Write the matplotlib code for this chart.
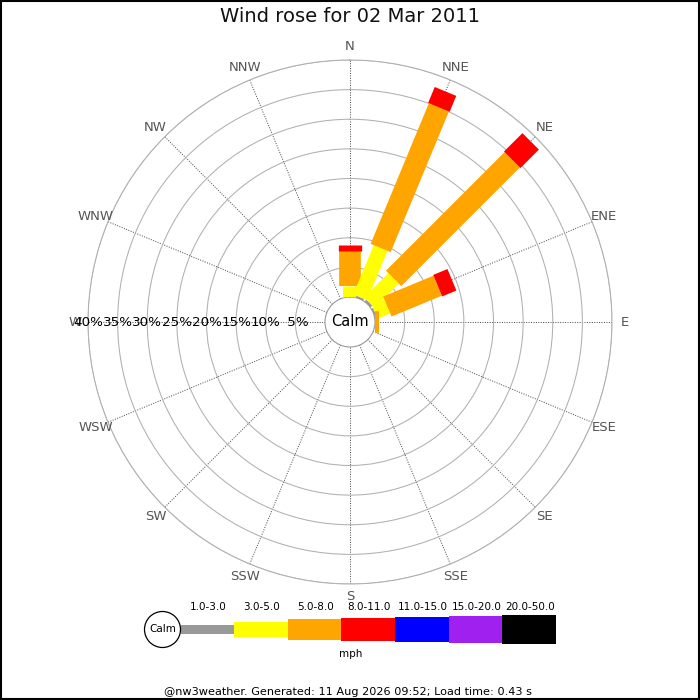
import numpy as np
import matplotlib
matplotlib.use("Agg")
import matplotlib.pyplot as plt
from matplotlib.patches import Rectangle, Circle

# ---------------- data ----------------
directions = ["N", "NNE", "NE", "ENE", "E", "ESE", "SE", "SSE",
              "S", "SSW", "SW", "WSW", "W", "WNW", "NW", "NNW"]
speed_ranges = ["1.0-3.0", "3.0-5.0", "5.0-8.0", "8.0-11.0",
                "11.0-15.0", "15.0-20.0", "20.0-50.0"]
range_colors = ["#999999", "#ffff00", "#ffa500", "#ff0000",
                "#0000ff", "#a020f0", "#000000"]
# percentage per direction for each speed range (1-3, 3-5, 5-8, 8-11)
pct_1_3 = [0.0, 0.3, 0.4, 0.3, 0.0, 0, 0, 0, 0, 0, 0, 0, 0, 0, 0, 0]
pct_3_5 = [1.9, 9.0, 5.8, 2.3, 0.0, 0, 0, 0, 0, 0, 0, 0, 0, 0, 0, 0]
pct_5_8 = [5.8, 25.7, 28.3, 9.2, 0.6, 0, 0, 0, 0, 0, 0, 0, 0, 0, 0, 0]
pct_8_11 = [1.1, 2.9, 4.4, 2.6, 0.0, 0, 0, 0, 0, 0, 0, 0, 0, 0, 0, 0]
ring_values = [5, 10, 15, 20, 25, 30, 35, 40]
ring_labels = [" 5%", "10%", "15%", "20%", "25%", "30%", "35%", "40%"]
title = "Wind rose for 02 Mar 2011"
footer = "@nw3weather. Generated: 11 Aug 2026 09:52; Load time: 0.43 s"

# ---------------- styling ----------------
W = H = 700
DPI = 100
cx, cy = 350, 322            # centre (px)
R_OUT = 262                  # outer ring radius (px)
R_CALM = 25                  # calm circle radius (px)
RMAX = 40.0
px_per_unit = (R_OUT - R_CALM) / RMAX
bar_widths_px = [8.3, 15, 21.7, 23.3, 25.6, 27.6, 29]
px2pt = 72.0 / DPI

fig = plt.figure(figsize=(W / DPI, H / DPI), dpi=DPI)
fig.patch.set_facecolor("white")

ax = fig.add_axes([(cx - R_OUT) / W, (H - cy - R_OUT) / H,
                   2 * R_OUT / W, 2 * R_OUT / H], projection="polar")
ax.set_theta_zero_location("N")
ax.set_theta_direction(-1)
ax.set_ylim(0, RMAX)
ax.set_rorigin(-R_CALM / px_per_unit)

theta = np.deg2rad(np.arange(16) * 22.5)
ax.set_thetagrids(np.arange(16) * 22.5, labels=[""] * 16)
ax.set_rgrids(ring_values, labels=[""] * len(ring_values))
ax.xaxis.grid(True, color="#444444", linestyle=(0, (1, 1.5)), linewidth=0.7)
ax.yaxis.grid(True, color="#b0b0b0", linestyle="-", linewidth=0.75)
ax.spines["polar"].set_color("#b0b0b0")
ax.spines["polar"].set_linewidth(0.75)
ax.spines["inner"].set_color("#999999")
ax.spines["inner"].set_linewidth(0.8)
ax.tick_params(axis="both", length=0)
ax.set_facecolor("white")

series = [pct_1_3, pct_3_5, pct_5_8, pct_8_11]
for i, th in enumerate(theta):
    start = 0.0
    for k, s in enumerate(series):
        v = s[i]
        if v > 0:
            ax.plot([th, th], [start, start + v], color=range_colors[k],
                    linewidth=bar_widths_px[k] * px2pt,
                    solid_capstyle="butt", zorder=3)
        start += v

# compass labels
r_lab = (275 - R_CALM) / px_per_unit
for th, name in zip(theta, directions):
    ax.text(th, r_lab, name, ha="center", va="center", fontsize=9.5,
            color="#555555", clip_on=False)

# ring labels along West axis
for v, lab in zip(ring_values, ring_labels):
    ax.text(np.deg2rad(270), v, lab, ha="center", va="center",
            fontsize=9.7, color="black", zorder=5)

# calm text
ax.text(0.5, 0.5, "Calm", transform=ax.transAxes, ha="center",
        va="center", fontsize=10.5, color="black", zorder=6)

# ---------------- overlay (title, legend, footer) ----------------
ov = fig.add_axes([0, 0, 1, 1], facecolor="none")
ov.set_xlim(0, W)
ov.set_ylim(H, 0)
ov.axis("off")

ov.text(cx, 17, title, ha="center", va="center", fontsize=14,
        color="#111111")

# legend
leg_cy = 629.5
calm_cx, calm_r = 162.5, 18
ov.add_patch(Circle((calm_cx, leg_cy), calm_r, facecolor="white",
                    edgecolor="black", linewidth=0.9, zorder=3))
ov.text(calm_cx, leg_cy, "Calm", ha="center", va="center", fontsize=7.5)
seg_w = 53.6
x0 = calm_cx + calm_r
for k, (lab, col) in enumerate(zip(speed_ranges, range_colors)):
    h = bar_widths_px[k]
    ov.add_patch(Rectangle((x0 + k * seg_w, leg_cy - h / 2), seg_w, h,
                           facecolor=col, edgecolor="none", zorder=2))
    ov.text(x0 + k * seg_w + seg_w / 2 + 1, 607, lab, ha="center",
            va="center", fontsize=7.5, color="black")
ov.text(350.5, 654, "mph", ha="center", va="center", fontsize=7.5)

ov.text(348, 692, footer, ha="center", va="center", fontsize=8.1,
        color="black")

# border
ov.add_patch(Rectangle((0.5, 0.5), W - 1.5, H - 1.5, facecolor="none",
                       edgecolor="black", linewidth=1.5, zorder=10))

fig.savefig("out.png", dpi=DPI)
